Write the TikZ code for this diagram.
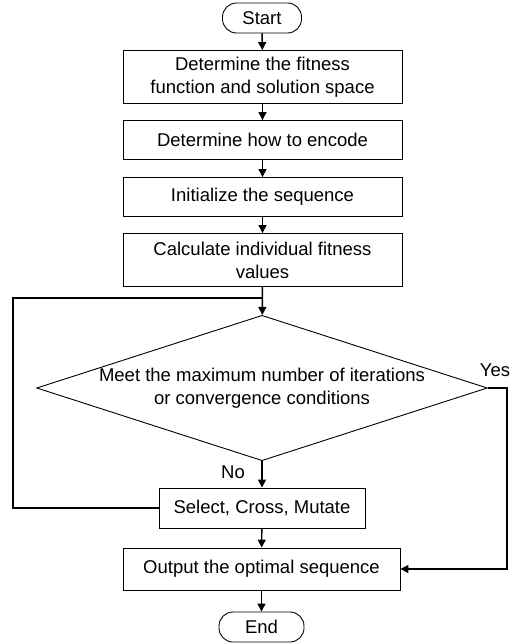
\documentclass[tikz,border=0pt]{standalone}
\usepackage{fontspec}
\setmainfont{Liberation Sans}
\usetikzlibrary{shapes.geometric,arrows.meta}

\begin{document}
\begin{tikzpicture}[x=1pt, y=-1pt]

\tikzstyle{term}=[rectangle, draw, rounded corners=14pt, minimum height=30pt, line width=0.9pt, font=\fontsize{18.5}{23}\selectfont]
\tikzstyle{box}=[rectangle, draw, align=center, line width=0.9pt, font=\fontsize{18.5}{23}\selectfont]
\tikzstyle{decide}=[diamond, draw, align=center, aspect=3.1, inner sep=0pt, minimum width=450pt, minimum height=145pt, line width=0.9pt, font=\fontsize{18.5}{23}\selectfont]
\tikzstyle{arrow}=[-{Triangle[length=8pt,width=8pt]}, line width=1.4pt]
\tikzstyle{line}=[line width=1.4pt]
\tikzstyle{lbl}=[font=\fontsize{18.5}{23}\selectfont]

\useasboundingbox (0,0) rectangle (512,643);

\node (S) [term, minimum width=79pt] at (262,18) {Start};
\node (B1) [box, minimum width=279pt, minimum height=53pt] at (262.5,77) {Determine the fitness\\function and solution space};
\node (B2) [box, minimum width=279pt, minimum height=39pt] at (262.5,140) {Determine how to encode};
\node (B3) [box, minimum width=279pt, minimum height=39pt] at (262.5,197) {Initialize the sequence};
\node (B4) [box, minimum width=279pt, minimum height=53pt] at (262.5,260) {Calculate individual fitness\\values};
\node (D) [decide] at (262,388) {Meet the maximum number of iterations\\or convergence conditions};
\node (Sel) [box, minimum width=206pt, minimum height=40pt] at (262,508) {Select, Cross, Mutate};
\node (Out) [box, minimum width=277pt, minimum height=42pt] at (261.5,569) {Output the optimal sequence};
\node (E) [term, minimum width=85pt] at (261.5,627) {End};

\node (Yes) [lbl] at (495,370) {Yes};
\node (No) [lbl] at (233,472) {No};

\coordinate (L) at (13,298);
\coordinate (J) at (262,298);
\coordinate (R) at (507,388);

\draw [arrow] (S) -- (B1);
\draw [arrow] (B1) -- (B2);
\draw [arrow] (B2) -- (B3);
\draw [arrow] (B3) -- (B4);
\draw [arrow] (B4) -- (D);
\draw [arrow] (D) -- (Sel);
\draw [arrow] (Sel) -- (Out);
\draw [arrow] (Out) -- (E);
\draw [line] (Sel.west) -| (L) -- (J);
\draw [arrow] (D.east) -- (R) |- (Out.east);

\end{tikzpicture}
\end{document}
